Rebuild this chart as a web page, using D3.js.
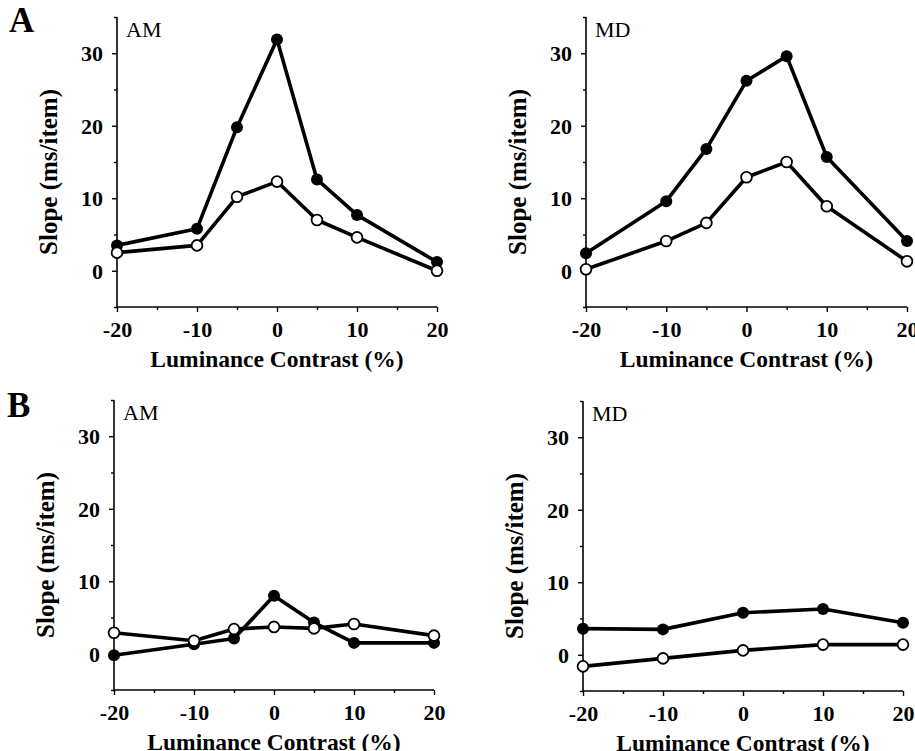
<!DOCTYPE html>
<html>
<head>
<meta charset="utf-8">
<script src="https://cdn.jsdelivr.net/npm/d3@7"></script>
<style>
  body { margin: 0; background: #fff; }
  svg text { font-family: "Liberation Serif", "Times New Roman", serif; fill: #000; }
</style>
</head>
<body>
<div id="chart"></div>
<script>
// luminance contrast levels (%)
var contrastA = [-20, -10, -5, 0, 5, 10, 20];
var contrastB_AM = [-20, -10, -5, 0, 5, 10, 20];
var contrastB_MD = [-20, -10, 0, 10, 20];

// slopes (ms/item), filled = solid dots, open = hollow dots
var amA_filled = [3.5, 5.8, 19.8, 31.9, 12.6, 7.7, 1.2];
var amA_open   = [2.5, 3.5, 10.2, 12.3, 7.0, 4.6, 0.0];
var mdA_filled = [2.4, 9.6, 16.8, 26.2, 29.6, 15.7, 4.1];
var mdA_open   = [0.2, 4.1, 6.6, 12.9, 15.0, 8.9, 1.3];
var amB_filled = [-0.2, 1.3, 2.1, 8.0, 4.3, 1.5, 1.5];
var amB_open   = [2.9, 1.8, 3.4, 3.7, 3.5, 4.1, 2.5];
var mdB_filled = [3.6, 3.5, 5.8, 6.3, 4.4];
var mdB_open   = [-1.6, -0.5, 0.6, 1.4, 1.4];

var xTicks = [-20, -10, 0, 10, 20];
var xMinor = [-15, -5, 5, 15];
var yTicks = [0, 10, 20, 30];
var yMinor = [-5, 5, 15, 25, 35];
var xLabel = "Luminance Contrast (%)";
var yLabel = "Slope (ms/item)";

var width = 915, height = 751;

var svg = d3.select("#chart").append("svg")
  .attr("width", width)
  .attr("height", height);

// panel frames
var panels = [
  {x0: 117, x1: 437, top: 17, bot: 307, name: "AM", letter: "A", lx: 9, ly: 32,
   xs: contrastA, filled: amA_filled, open: amA_open},
  {x0: 586, x1: 907, top: 17, bot: 307, name: "MD", letter: null,
   xs: contrastA, filled: mdA_filled, open: mdA_open},
  {x0: 114, x1: 434, top: 400, bot: 690, name: "AM", letter: "B", lx: 7, ly: 417,
   xs: contrastB_AM, filled: amB_filled, open: amB_open},
  {x0: 583, x1: 903, top: 401, bot: 691, name: "MD", letter: null,
   xs: contrastB_MD, filled: mdB_filled, open: mdB_open}
];

var fmt = function (d) { return String(d); };

panels.forEach(function (p) {
  var x = d3.scaleLinear().domain([-20, 20]).range([p.x0, p.x1]);
  var y = d3.scaleLinear().domain([-5, 35]).range([p.bot, p.top]);
  var g = svg.append("g");

  // x axis
  var xAxis = g.append("g").attr("transform", "translate(0," + p.bot + ")")
    .call(d3.axisBottom(x).tickValues(xTicks).tickSize(5).tickPadding(6).tickFormat(fmt));
  g.append("g").attr("transform", "translate(0," + p.bot + ")")
    .call(d3.axisBottom(x).tickValues(xMinor).tickSize(3).tickFormat(""))
    .select(".domain").remove();

  // y axis
  var yAxis = g.append("g").attr("transform", "translate(" + p.x0 + ",0)")
    .call(d3.axisLeft(y).tickValues(yTicks).tickSize(5).tickPadding(9).tickFormat(fmt));
  g.append("g").attr("transform", "translate(" + p.x0 + ",0)")
    .call(d3.axisLeft(y).tickValues(yMinor).tickSize(3).tickFormat(""))
    .select(".domain").remove();

  g.selectAll(".domain").attr("stroke-width", 1.6);
  xAxis.select(".domain").attr("d", "M" + p.x0 + ",0H" + p.x1);
  yAxis.select(".domain").attr("d", "M0," + p.top + "V" + p.bot);
  g.selectAll(".tick line").attr("stroke-width", 1.4);
  g.selectAll(".tick text")
    .style("font-family", "'Liberation Serif', serif")
    .style("font-weight", "bold")
    .style("font-size", "22px");
  xAxis.selectAll(".tick text").attr("dy", "0.86em");
  yAxis.selectAll(".tick text").attr("dy", "0.34em");

  // axis titles
  g.append("text")
    .attr("x", (p.x0 + p.x1) / 2)
    .attr("y", p.bot + 60)
    .attr("text-anchor", "middle")
    .style("font-weight", "bold")
    .style("font-size", "23.5px")
    .text(xLabel);
  g.append("text")
    .attr("transform", "translate(" + (p.x0 - 60) + "," + ((p.top + p.bot) / 2 + 10) + ") rotate(-90)")
    .attr("text-anchor", "middle")
    .style("font-weight", "bold")
    .style("font-size", "25px")
    .text(yLabel);

  // subject label
  g.append("text")
    .attr("x", p.x0 + 9)
    .attr("y", p.top + 20)
    .style("font-size", "22px")
    .text(p.name);

  if (p.letter) {
    svg.append("text")
      .attr("x", p.lx)
      .attr("y", p.ly)
      .style("font-weight", "bold")
      .style("font-size", "35px")
      .text(p.letter);
  }

  var line = d3.line()
    .x(function (d) { return x(d[0]); })
    .y(function (d) { return y(d[1]); });

  var filledPts = p.xs.map(function (c, i) { return [c, p.filled[i]]; });
  var openPts = p.xs.map(function (c, i) { return [c, p.open[i]]; });

  [filledPts, openPts].forEach(function (pts) {
    g.append("path").datum(pts)
      .attr("d", line)
      .attr("fill", "none")
      .attr("stroke", "#000")
      .attr("stroke-width", 3.6)
      .attr("stroke-linejoin", "round");
  });

  g.selectAll(".dot-f").data(filledPts).enter().append("circle")
    .attr("cx", function (d) { return x(d[0]); })
    .attr("cy", function (d) { return y(d[1]); })
    .attr("r", 6)
    .attr("fill", "#000");
  g.selectAll(".dot-o").data(openPts).enter().append("circle")
    .attr("cx", function (d) { return x(d[0]); })
    .attr("cy", function (d) { return y(d[1]); })
    .attr("r", 5.4)
    .attr("fill", "#fff")
    .attr("stroke", "#000")
    .attr("stroke-width", 1.8);
});
</script>
</body>
</html>
